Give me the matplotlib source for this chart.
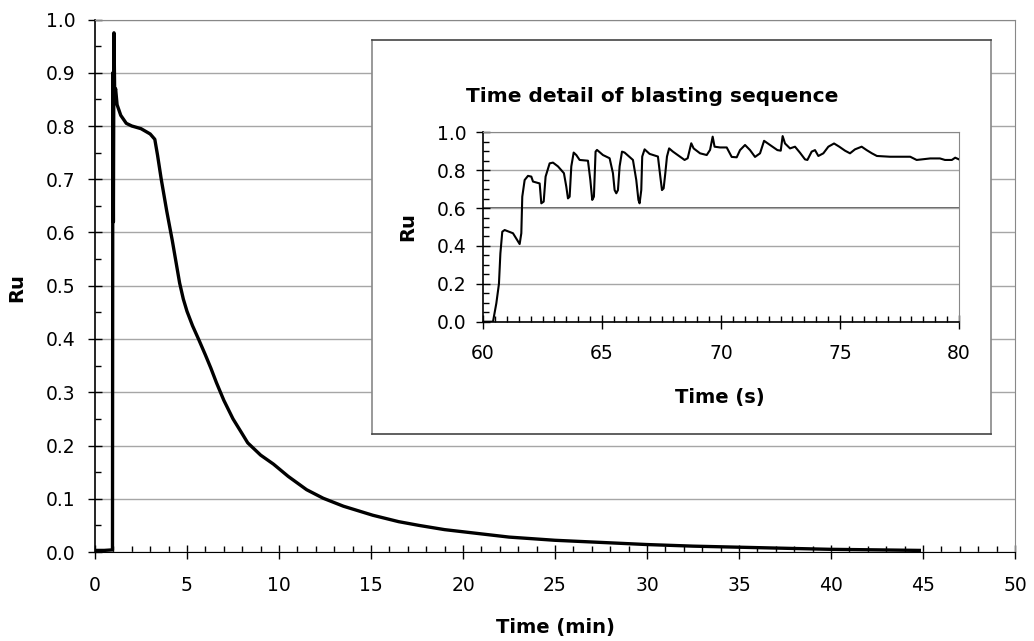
import matplotlib
matplotlib.use('Agg')
import matplotlib.pyplot as plt
from matplotlib.ticker import MultipleLocator, FormatStrFormatter

# main record: Ru vs time (min)
time_min = [0.0, 0.5, 0.95, 0.97, 1.0, 1.03, 1.07, 1.12, 1.2, 1.4, 1.7, 2.0,
            2.5, 3.0, 3.25, 3.4, 3.6, 3.9, 4.2, 4.4, 4.6, 4.8, 5.0, 5.3, 5.65,
            6.0, 6.3, 6.6, 7.0, 7.5, 8.0, 8.3, 9.0, 9.7, 10.5, 11.5, 12.4, 13.5,
            15.1, 16.5, 17.6, 19.0, 20.0, 22.5, 25.0, 27.5, 30.0, 32.5, 35.0,
            37.5, 40.0, 42.5, 44.8]
ru_main = [0.003, 0.003, 0.004, 0.90, 0.62, 0.975, 0.86, 0.87, 0.84, 0.82,
           0.805, 0.80, 0.795, 0.785, 0.775, 0.745, 0.70, 0.64, 0.585, 0.545,
           0.505, 0.475, 0.452, 0.425, 0.398, 0.37, 0.345, 0.318, 0.285, 0.25,
           0.222, 0.205, 0.182, 0.165, 0.142, 0.117, 0.101, 0.086, 0.069, 0.057,
           0.05, 0.042, 0.038, 0.028, 0.022, 0.018, 0.014, 0.011, 0.009, 0.007,
           0.005, 0.004, 0.003]

# inset: blasting sequence, Ru vs time (s)
time_s = [60.0, 60.42, 60.56, 60.67, 60.73, 60.81, 60.91, 61.26, 61.54, 61.61,
          61.65, 61.75, 61.89, 62.03, 62.1, 62.38, 62.45, 62.55, 62.63, 62.8,
          62.94, 63.15, 63.29, 63.4, 63.5, 63.57, 63.64, 63.71, 63.81, 63.92,
          64.06, 64.41, 64.51, 64.59, 64.66, 64.73, 64.79, 65.04, 65.32, 65.46,
          65.53, 65.6, 65.67, 65.74, 65.84, 65.95, 66.3, 66.44, 66.53, 66.58,
          66.65, 66.69, 66.79, 67.0, 67.35, 67.45, 67.52, 67.59, 67.66, 67.73,
          67.82, 67.98, 68.47, 68.6, 68.75, 68.85, 69.12, 69.4, 69.54, 69.65,
          69.73, 69.96, 70.24, 70.45, 70.66, 70.8, 71.01, 71.22, 71.43, 71.64,
          71.81, 72.06, 72.37, 72.51, 72.59, 72.69, 72.9, 73.11, 73.32, 73.53,
          73.63, 73.81, 73.95, 74.09, 74.3, 74.51, 74.75, 74.97, 75.21, 75.42,
          75.63, 75.91, 76.12, 76.34, 76.55, 77.1, 77.95, 78.22, 78.44, 78.79,
          79.2, 79.41, 79.7, 79.84, 80.0]
ru_inset = [0.0, 0.0, 0.097, 0.2, 0.36, 0.475, 0.484, 0.467, 0.41, 0.467,
            0.66, 0.748, 0.77, 0.766, 0.74, 0.73, 0.625, 0.634, 0.766, 0.836,
            0.84, 0.82, 0.80, 0.784, 0.713, 0.651, 0.66, 0.82, 0.893, 0.88,
            0.854, 0.85, 0.748, 0.643, 0.66, 0.898, 0.907, 0.88, 0.863, 0.784,
            0.695, 0.678, 0.695, 0.82, 0.898, 0.893, 0.854, 0.748, 0.643, 0.625,
            0.695, 0.872, 0.91, 0.886, 0.872, 0.766, 0.695, 0.704, 0.784, 0.872,
            0.915, 0.898, 0.854, 0.863, 0.942, 0.915, 0.889, 0.88, 0.907, 0.977,
            0.924, 0.92, 0.92, 0.87, 0.868, 0.906, 0.933, 0.906, 0.87, 0.889,
            0.955, 0.933, 0.906, 0.903, 0.98, 0.941, 0.915, 0.924, 0.892, 0.857,
            0.854, 0.898, 0.906, 0.875, 0.889, 0.924, 0.941, 0.924, 0.903, 0.889,
            0.91, 0.924, 0.906, 0.889, 0.875, 0.871, 0.871, 0.854, 0.857, 0.862,
            0.862, 0.854, 0.854, 0.866, 0.857]

TICK_FS = 13.5
LABEL_FS = 14
GRID_C = '#a6a6a6'

fig = plt.figure(figsize=(10.34, 6.41), dpi=100)

# ---- main chart
ax = fig.add_axes([95/1034, 1 - 552/641, 920/1034, 532.5/641])
ax.plot(time_min, ru_main, color='black', lw=2.4, zorder=3)
ax.set_xlim(0, 50)
ax.set_ylim(0, 1.0)
ax.xaxis.set_major_locator(MultipleLocator(5))
ax.xaxis.set_minor_locator(MultipleLocator(1))
ax.yaxis.set_major_locator(MultipleLocator(0.1))
ax.yaxis.set_minor_locator(MultipleLocator(0.05))
ax.yaxis.set_major_formatter(FormatStrFormatter('%.1f'))
ax.yaxis.grid(True, color=GRID_C, lw=1)
ax.tick_params(axis='both', which='major', direction='inout', length=10,
               width=1, labelsize=TICK_FS)
ax.tick_params(axis='x', which='major', pad=12)
ax.tick_params(axis='y', which='major', pad=9)
ax.tick_params(axis='both', which='minor', direction='in', length=4, width=1)
ax.spines['left'].set_linewidth(1.2)
ax.spines['bottom'].set_linestyle((0, (1, 1)))
for s in ['top', 'right']:
    ax.spines[s].set_linestyle((0, (1, 1)))
    ax.spines[s].set_color('#888888')
fig.text(555/1034, 1 - 627/641, 'Time (min)', ha='center', va='center',
         fontsize=LABEL_FS, fontweight='bold')
fig.text(17/1034, 1 - 288/641, 'Ru', ha='center', va='center', rotation=90,
         fontsize=LABEL_FS, fontweight='bold')

# ---- box behind the inset
box = fig.add_axes([372/1034, 1 - 434/641, 619/1034, 394/641], zorder=2)
box.set_xticks([])
box.set_yticks([])
box.set_facecolor('white')
for s in ['top', 'bottom']:
    box.spines[s].set_color('#444444')
for s in ['left', 'right']:
    box.spines[s].set_color('#888888')
for s in box.spines.values():
    s.set_linewidth(1.2)

# ---- inset chart
ins = fig.add_axes([483/1034, 1 - 321.7/641, 476/1034, 189.4/641], zorder=3)
ins.set_facecolor('none')
ins.plot(time_s, ru_inset, color='black', lw=1.5, zorder=3)
ins.set_xlim(60, 80)
ins.set_ylim(0, 1.0)
ins.xaxis.set_major_locator(MultipleLocator(5))
ins.xaxis.set_minor_locator(MultipleLocator(0.5))
ins.yaxis.set_major_locator(MultipleLocator(0.2))
ins.yaxis.set_minor_locator(MultipleLocator(0.05))
ins.yaxis.set_major_formatter(FormatStrFormatter('%.1f'))
ins.yaxis.grid(True, color=GRID_C, lw=1)
ins.axhline(0.6, color='#333333', lw=1.1, zorder=1)
ins.tick_params(axis='both', which='major', direction='inout', length=10,
                width=1, labelsize=TICK_FS)
ins.tick_params(axis='x', which='major', pad=11)
ins.tick_params(axis='y', which='major', pad=7)
ins.tick_params(axis='both', which='minor', direction='in', length=4, width=1)
ins.spines['left'].set_linewidth(1.2)
ins.spines['bottom'].set_linewidth(1.2)
for s in ['top', 'right']:
    ins.spines[s].set_linestyle((0, (1, 1)))
    ins.spines[s].set_color('#888888')
fig.text(652/1034, 1 - 96/641, 'Time detail of blasting sequence',
         ha='center', va='center', fontsize=14.5, fontweight='bold', zorder=4)
fig.text(720/1034, 1 - 397/641, 'Time (s)', ha='center', va='center',
         fontsize=LABEL_FS, fontweight='bold', zorder=4)
fig.text(408/1034, 1 - 227/641, 'Ru', ha='center', va='center', rotation=90,
         fontsize=LABEL_FS, fontweight='bold', zorder=4)

fig.savefig('out.png', dpi=100)
